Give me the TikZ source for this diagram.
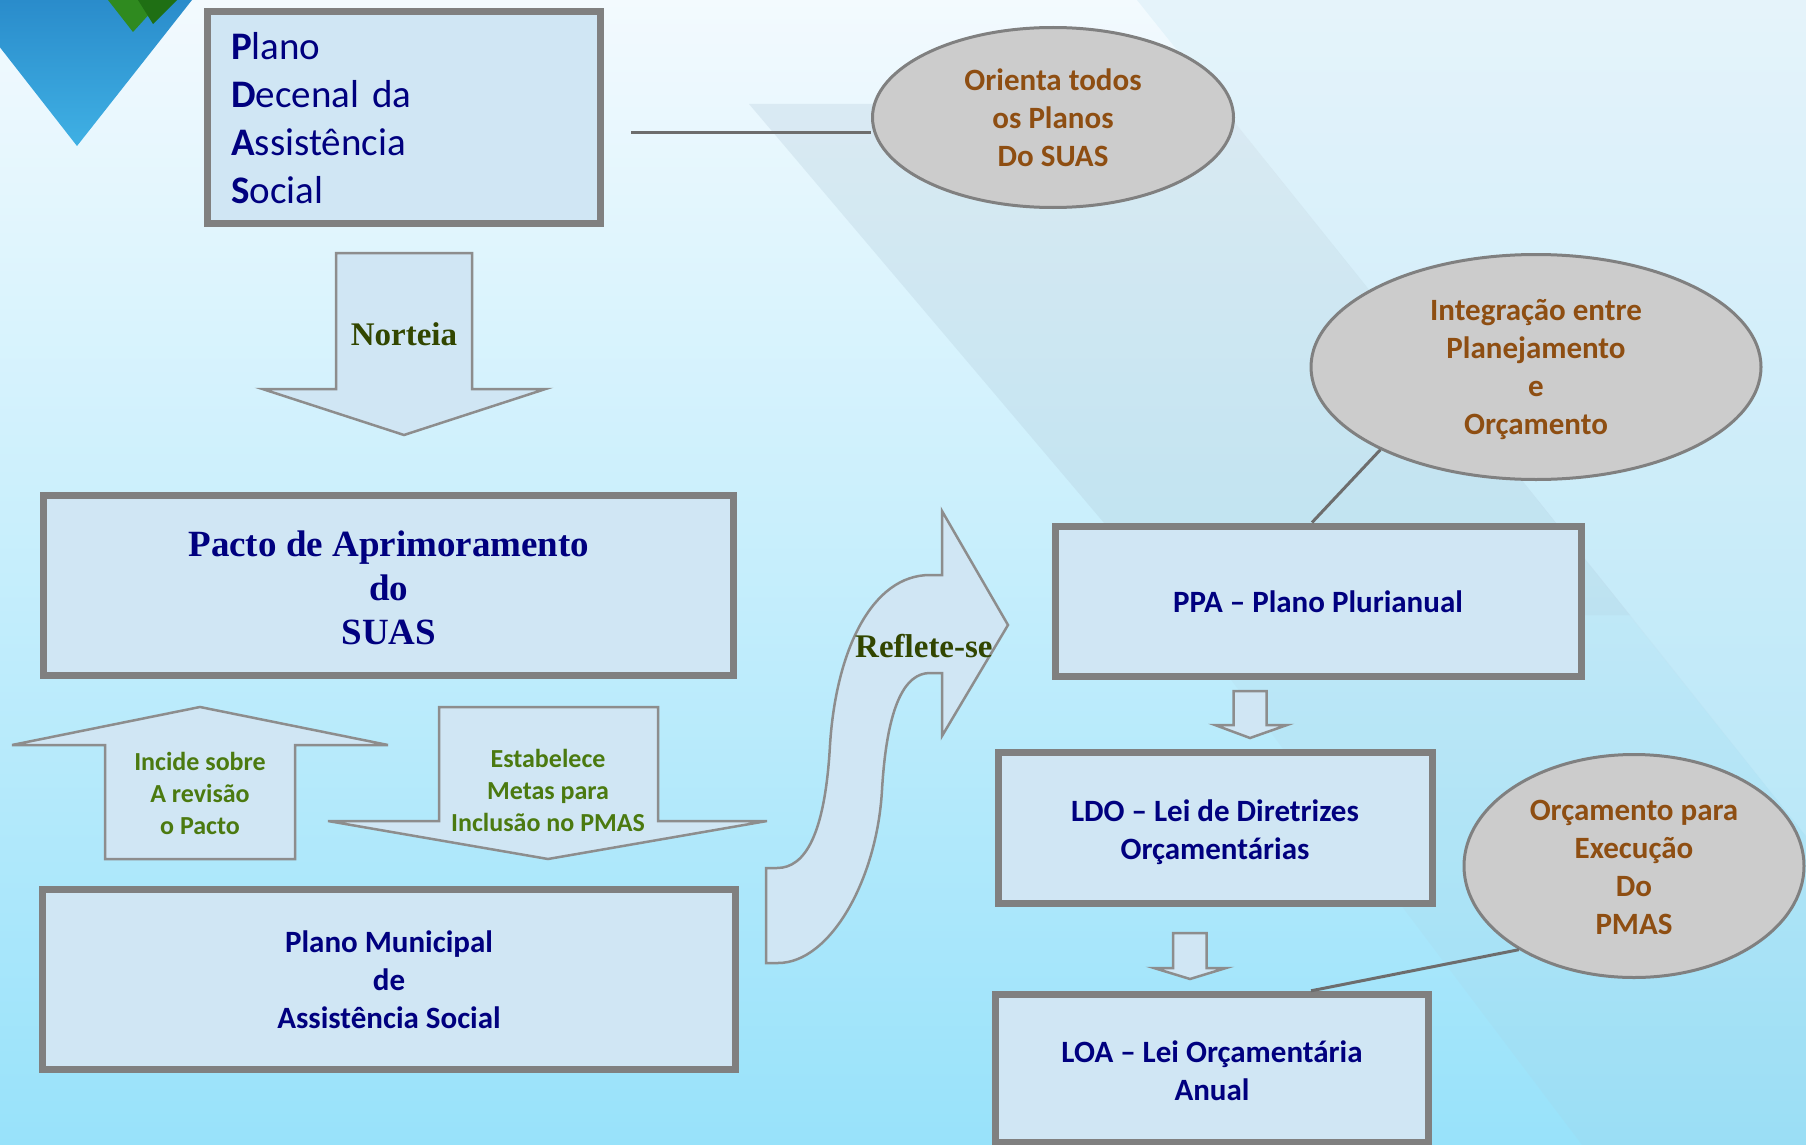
\documentclass[tikz,border=0pt]{standalone}
\usepackage{fontspec}
\setmainfont{Liberation Serif}
\newfontfamily\calib{Carlito}
\usepackage{tikz}
\usetikzlibrary{shapes.geometric}

\definecolor{boxfill}{HTML}{D0E6F4}
\definecolor{boxline}{HTML}{808080}
\definecolor{ellfill}{HTML}{CCCCCC}
\definecolor{txtnavy}{HTML}{00007F}
\definecolor{txtbrown}{HTML}{8E4E12}
\definecolor{lgreen}{HTML}{4B7A10}
\definecolor{dgreen}{HTML}{324600}
\definecolor{bgtop}{HTML}{F3FAFE}
\definecolor{bgmid}{HTML}{E6F7FD}
\definecolor{bgbot}{HTML}{98E2FA}
\definecolor{bandc}{HTML}{B0C8D8}
\definecolor{sidec}{HTML}{CDE8F5}
\definecolor{logoa}{HTML}{2A8CCB}
\definecolor{logob}{HTML}{3FB0E4}
\definecolor{logog}{HTML}{2F8A1F}
\definecolor{logoh}{HTML}{1F6F14}

\begin{document}
\begin{tikzpicture}[x=1pt,y=-1pt,
    plan/.style={draw=boxline,line width=7pt,fill=boxfill,inner sep=0pt,anchor=base,align=center,text=txtnavy},
    balao/.style={ellipse,draw=boxline,line width=3pt,fill=ellfill,inner sep=0pt,anchor=base,align=center,text=txtbrown,font=\calib\bfseries\fontsize{31}{38}\selectfont},
    seta/.style={draw=boxline!90,line width=2.5pt,fill=boxfill,line join=miter},
    liga/.style={draw=boxline!85!black,line width=3pt},
    nav/.style={font=\calib\bfseries\fontsize{31}{38}\selectfont}]
    \useasboundingbox (0,0) rectangle (1806,1145);
    \clip (0,0) rectangle (1806,1145);
    \shade[top color=bgtop,middle color=bgmid,bottom color=bgbot] (0,0) rectangle (1806,1145);
    \fill[sidec,opacity=0.35] (1137,0) -- (1806,0) -- (1806,836) -- cycle;
    \fill[bandc,opacity=0.28] (749,104) -- (1220,104) -- (1630,615) -- (1182,615) -- cycle;
    \fill[bandc,opacity=0.12] (1182,615) -- (1630,615) -- (1806,836) -- (1806,1145) -- (1582,1145) -- cycle;
    \shade[top color=logoa,bottom color=logob] (-37,0) -- (192,0) -- (77,146) -- cycle;
    \fill[logog] (108,0) -- (162,0) -- (133,32) -- cycle;
    \fill[logoh] (138,0) -- (177,0) -- (153,24) -- cycle;

    \draw[seta] (336,253) -- (472,253) -- (472,389) -- (545.5,389) -- (404,435) -- (262.5,389) -- (336,389) -- cycle;
    \draw[seta] (200,707) -- (388,745) -- (295,745) -- (295,859) -- (105,859) -- (105,745) -- (12,745) -- cycle;
    \draw[seta] (439,707) -- (658,707) -- (658,821) -- (767,821) -- (548,859) -- (328,821) -- (439,821) -- cycle;
    \draw[seta] (1233.5,691) -- (1266.5,691) -- (1266.5,725) -- (1287,725) -- (1250,738) -- (1215,725) -- (1233.5,725) -- cycle;
    \draw[seta] (1173,933) -- (1206.5,933) -- (1206.5,968) -- (1226,968) -- (1190,979) -- (1154,968) -- (1173,968) -- cycle;
    \draw[seta] (942,575) -- (930,575) .. controls (872,575) and (836,650) .. (830,745)
        .. controls (825,835) and (805,868) .. (777,868) -- (766,868) -- (766,963) -- (778,963)
        .. controls (830,963) and (877,880) .. (882,790) .. controls (887,705) and (905,673) .. (930,673)
        -- (942,673) -- (942,736) -- (1008,625) -- (942,511) -- cycle;

    \node[plan,text width=345.7pt,inner xsep=23.5pt,align=left,text height=48.3pt,text depth=163.4pt,
        font=\calib\fontsize{39}{48}\selectfont] (pdas) at (404,60)
        {\textbf{P}lano\\\textbf{D}ecenal da\\\textbf{A}ssistência\\\textbf{S}ocial};
    \node[plan,minimum width=690pt,text height=148.5pt,text depth=31.5pt,
        font=\bfseries\fontsize{37}{44}\selectfont] (pacto) at (388.8,644) {Pacto de Aprimoramento\\do\\SUAS};
    \node[plan,nav,minimum width=692.5pt,text height=138.7pt,text depth=41.3pt] (pmas) at (389,1028)
        {Plano Municipal\\de\\Assistência Social};
    \node[plan,nav,minimum width=526pt,text height=86pt,text depth=64pt] (ppa) at (1318,612) {PPA – Plano Plurianual};
    \node[plan,nav,minimum width=434pt,text height=106.2pt,text depth=44.7pt] (ldo) at (1215,859)
        {LDO – Lei de Diretrizes\\Orçamentárias};
    \node[plan,nav,minimum width=433.5pt,text height=105.7pt,text depth=42pt] (loa) at (1212,1100)
        {LOA – Lei Orçamentária\\Anual};

    \node[balao,minimum width=361pt,minimum height=180pt,text height=105pt,text depth=8pt] (ori) at (1053,166)
        {Orienta todos\\os Planos\\Do SUAS};
    \node[balao,minimum width=450pt,minimum height=225pt,text height=140pt,text depth=6pt] (integ) at (1536,434)
        {Integração entre\\Planejamento\\e\\Orçamento};
    \node[balao,minimum width=340pt,minimum height=223pt,text height=142pt,text depth=6pt] (orc) at (1634,934)
        {Orçamento para\\Execução\\Do\\PMAS};

    \node[font=\bfseries\fontsize{33}{40}\selectfont,text=dgreen,anchor=base] (nort) at (404,345) {Norteia};
    \node[font=\bfseries\fontsize{33}{40}\selectfont,text=dgreen,anchor=base west,inner sep=0pt] (refl) at (855,657) {Reflete-se};
    \node[font=\calib\bfseries\fontsize{26}{32}\selectfont,text=lgreen,align=center,anchor=base] (inc) at (200,834)
        {Incide sobre\\A revisão\\o Pacto};
    \node[font=\calib\bfseries\fontsize{26}{32}\selectfont,text=lgreen,align=center,anchor=base] (est) at (548,831)
        {Estabelece\\Metas para\\Inclusão no PMAS};

    \coordinate (pdasr) at (631,133);
    \draw[liga] (pdasr) -- (pdasr -| ori.west);
    \draw[liga] (integ.208) -- ([xshift=-6pt]ppa.north);
    \draw[liga] (orc.216) -- ([xshift=99pt]loa.north);
\end{tikzpicture}
\end{document}
